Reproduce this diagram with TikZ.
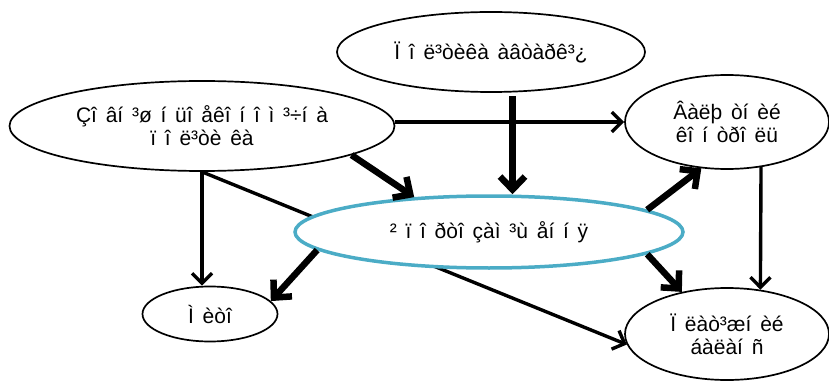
\documentclass[tikz,border=0pt]{standalone}
\usepackage{fontspec}
\setmainfont{Liberation Sans}[WordSpace=1.5]
\usetikzlibrary{shapes.geometric,arrows.meta}
\definecolor{tuerkis}{RGB}{75,172,198}
\begin{document}
\begin{tikzpicture}[x=1pt,y=-1pt,
	feld/.style={draw,ellipse,line width=1.7pt,fill=white,inner sep=0pt,
		align=center,font=\fontsize{21}{23}\selectfont},
	pfeil/.style={-{Straight Barb[length=10pt,width=20pt]},line width=3.4pt},
	dick/.style={-{Straight Barb[length=13pt,width=25pt]},line width=6.5pt}]

\useasboundingbox (0,0) rectangle (829,382);

\node[feld,minimum width=308,minimum height=80] (autarkie) at (491,52)
	{Ï î ë³òèêà àâòàðê³¿};
\node[feld,minimum width=385,minimum height=90] (aussen) at (202,126)
	{Çî âí ³ø í üî åêî í î ì ³÷í à\\ï î ë³òè êà};
\node[feld,minimum width=204,minimum height=94] (waehrung) at (727,122)
	{Âàëþ òí èé\\êî í òðî ëü};
\node[feld,minimum width=135,minimum height=55] (zoll) at (210,314)
	{Ì èòî};
\node[feld,minimum width=204,minimum height=92] (bilanz) at (727,334)
	{Ï ëàò³æí èé\\áàëàí ñ};

% laeuft hinter der Mitte durch
\draw[pfeil] (aussen.south) -- (bilanz.186);

\node[feld,draw=tuerkis,line width=3.5pt,minimum width=388,minimum height=72] (import) at (489,232)
	{² ï î ðòî çàì ³ù åí í ÿ};

\draw[pfeil] (waehrung.west -| aussen.east) -- (waehrung.west);
\draw[pfeil] (aussen.south) -- (aussen.south |- zoll.north);
\draw[pfeil] (waehrung.-53) -- (bilanz.53);

\draw[dick] (aussen.-11) -- (import.155);
\draw[dick,shorten <=4pt] (autarkie.-62) -- (autarkie.-62 |- import.north);
\draw[dick] (import.186) -- (zoll.12);
\draw[dick] (import.8) -- (waehrung.-119);
\draw[dick] (import.-8) -- (bilanz.137);

\end{tikzpicture}
\end{document}
